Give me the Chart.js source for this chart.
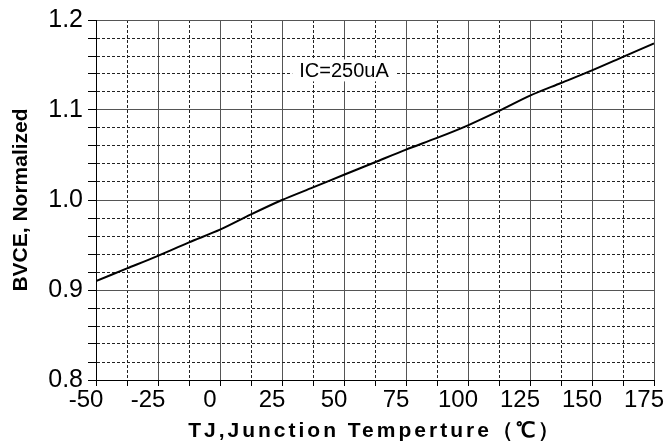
<!DOCTYPE html>
<html>
<head>
<meta charset="utf-8">
<script src="https://cdn.jsdelivr.net/npm/chart.js@4.4.1/dist/chart.umd.min.js"></script>
<style>
    body { margin: 0; background: #fff; }
    #wrap { width: 666px; height: 448px; }
</style>
</head>
<body>
<div id="wrap"><canvas id="bvce" width="666" height="448"></canvas></div>
<script>
//data
var temps = [-50, -37.5, -25, -12.5, 0, 12.5, 25, 37.5, 50, 62.5, 75, 87.5, 100, 112.5, 125, 137.5, 150, 162.5, 175];
var bvce = [0.910, 0.924, 0.938, 0.953, 0.967, 0.984, 1.000, 1.014, 1.028, 1.042, 1.056, 1.069, 1.083, 1.099, 1.116, 1.130, 1.144, 1.159, 1.174];

//axes
var xMin = -50, xMax = 175, xMajor = 25, xMinor = 12.5;
var yMin = 0.8, yMax = 1.2, yMajor = 0.1, yMinor = 0.02;

//note on the chart
var noteText = 'IC=250uA';
var noteX = 50;
var noteY = 1.144;

var myChart = null;

function isMajor(v, step){
    var r = v / step;
    return Math.abs(r - Math.round(r)) < 1e-6;
}

function gridColor(step){
    return function(ctx){
        if (!ctx.tick) return '#000';
        return isMajor(ctx.tick.value, step) ? '#555' : '#222';
    };
}

function gridDash(step){
    return function(ctx){
        if (!ctx.tick) return [];
        return isMajor(ctx.tick.value, step) ? [] : [3, 2];
    };
}

//white box with the IC text
var notePlugin = {
    id: 'note',
    beforeDatasetsDraw: function(chart){
        var c = chart.ctx;
        var px = chart.scales.x.getPixelForValue(noteX);
        var py = chart.scales.y.getPixelForValue(noteY);
        c.save();
        c.font = '20px "Liberation Sans", Arial, sans-serif';
        var w = c.measureText(noteText).width;
        c.fillStyle = '#fff';
        c.fillRect(px - w / 2 - 7, py - 11, w + 14, 22);
        c.fillStyle = '#000';
        c.textAlign = 'center';
        c.textBaseline = 'middle';
        c.fillText(noteText, px, py + 1);
        c.restore();
    }
};

//spread the letters of the x title
var spacingPlugin = {
    id: 'titleSpacing',
    beforeDraw: function(chart){
        var s = chart.scales.x;
        if (s._spaced) return;
        var orig = s.drawTitle;
        s.drawTitle = function(){
            var c = this.ctx;
            c.save();
            c.letterSpacing = '3px';
            orig.apply(this, arguments);
            c.restore();
        };
        s._spaced = true;
    }
};

function chartBVCE(){
    if (myChart != null){
        myChart.destroy();
    }
    var ctx = document.getElementById('bvce').getContext('2d');

    var points = [];
    for (var i = 0; i < temps.length; i++){
        points.push({x: temps[i], y: bvce[i]});
    }

    myChart = new Chart(ctx, {
        type: 'line',
        data: {
            datasets: [{
                data: points,
                borderColor: '#000',
                borderWidth: 2,
                pointRadius: 0,
                tension: 0.3,
                fill: false
            }]
        },
        plugins: [notePlugin, spacingPlugin],
        options: {
            responsive: false,
            animation: false,
            layout: { padding: { top: 20, right: 12, bottom: 0, left: 0 } },
            plugins: {
                legend: { display: false },
                tooltip: { enabled: false }
            },
            scales: {
                x: {
                    type: 'linear',
                    min: xMin,
                    max: xMax,
                    afterFit: function(scale){
                        scale.paddingRight = 0;
                        scale.height = 68;
                    },
                    ticks: {
                        stepSize: xMinor,
                        autoSkip: false,
                        maxRotation: 0,
                        padding: 0,
                        labelOffset: -10,
                        color: '#000',
                        font: { family: '"Liberation Sans", Arial, sans-serif', size: 24 },
                        callback: function(v){
                            return isMajor(v, xMajor) ? String(Math.round(v)) : '';
                        }
                    },
                    grid: {
                        color: gridColor(xMajor),
                        lineWidth: 1,
                        tickLength: 6,
                        tickColor: '#000'
                    },
                    border: { display: true, color: '#000', width: 1, dash: gridDash(xMajor) },
                    title: {
                        display: true,
                        text: 'TJ,Junction Temperture（℃）',
                        color: '#000',
                        padding: { top: 0, bottom: 4 },
                        font: { family: '"Liberation Sans", Arial, sans-serif', size: 21, weight: 'bold' }
                    }
                },
                y: {
                    type: 'linear',
                    min: yMin,
                    max: yMax,
                    afterFit: function(scale){
                        scale.width = 96;
                    },
                    ticks: {
                        stepSize: yMinor,
                        autoSkip: false,
                        padding: 5,
                        color: '#000',
                        font: { family: '"Liberation Sans", Arial, sans-serif', size: 25 },
                        callback: function(v){
                            return isMajor(v, yMajor) ? v.toFixed(1) : '';
                        }
                    },
                    grid: {
                        color: gridColor(yMajor),
                        lineWidth: 1,
                        tickLength: 8,
                        tickColor: '#000'
                    },
                    border: { display: true, color: '#000', width: 1, dash: gridDash(yMajor) },
                    title: {
                        display: true,
                        text: 'BVCE, Normalized',
                        color: '#000',
                        padding: { top: 9, bottom: 0 },
                        font: { family: '"Liberation Sans", Arial, sans-serif', size: 21, weight: 'bold' }
                    }
                }
            }
        }
    });
    myChart.draw();
}

chartBVCE();
</script>
</body>
</html>
